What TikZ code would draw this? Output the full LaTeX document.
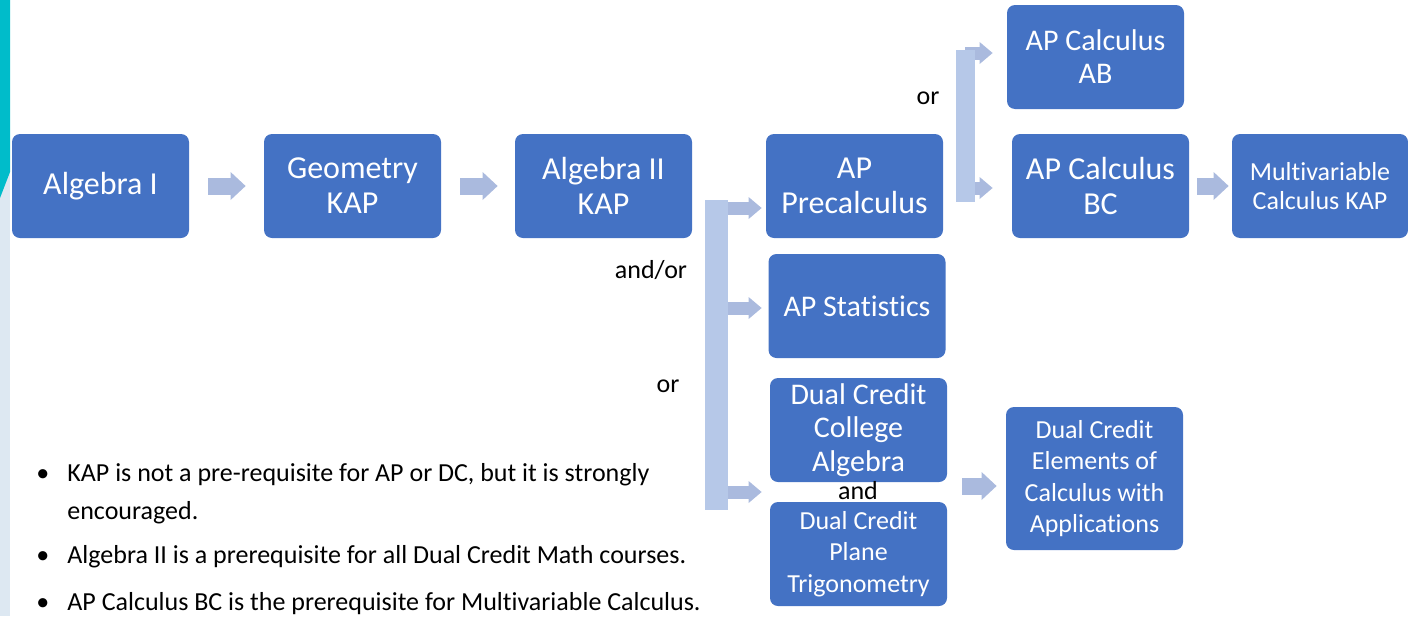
\documentclass[tikz,border=0pt]{standalone}
\usepackage{fontspec}
\setmainfont{Carlito}[Ligatures=NoCommon]
\usetikzlibrary{arrows.meta}
\definecolor{boxblue}{RGB}{68,114,196}
\definecolor{arrowblue}{RGB}{170,186,222}
\definecolor{barblue}{RGB}{182,200,232}
\definecolor{edgeteal}{RGB}{0,188,202}
\definecolor{edgegray}{RGB}{221,232,242}
\tikzset{
  course/.style={fill=boxblue, rounded corners=4pt, text=white, align=center,
    inner sep=0pt, minimum width=88.5pt, minimum height=52pt,
    font=\fontsize{16}{17.5}\selectfont},
  bigarrow/.style={draw=arrowblue, line width=8.5pt,
    -{Triangle[length=7.5pt,width=14pt,line width=0pt]}},
  forkarrow/.style={draw=arrowblue, line width=6.5pt,
    -{Triangle[length=6.5pt,width=11pt,line width=0pt]}},
  forkbar/.style={draw=barblue},
  joiner/.style={font=\fontsize{13}{15}\selectfont},
  note/.style={anchor=base west, align=left, inner sep=0pt,
    font=\fontsize{13}{19}\selectfont},
}
\begin{document}
\begin{tikzpicture}[x=0.5pt,y=-0.5pt]
\useasboundingbox (0,0) rectangle (1408,616);
% slide edge
\fill[edgegray] (0,0) rectangle (10,616);
\fill[edgeteal] (0,0) -- (10,0) -- (10,172) -- (0,198) -- cycle;
% courses
\node[course] (alg1) at (100.5,186) {Algebra I};
\node[course] (geo) at (352.5,186) {Geometry\\KAP};
\node[course] (alg2) at (603.5,186) {Algebra II\\KAP};
\node[course] (precalc) at (854.5,186) {AP\\Precalculus};
\node[course, font=\fontsize{15}{16.5}\selectfont] (calcab) at (1095.5,57) {AP Calculus\\AB};
\node[course] (calcbc) at (1100.5,186) {AP Calculus\\BC};
\node[course, minimum width=88pt, font=\fontsize{13}{14.5}\selectfont] (multi) at (1320,186) {Multivariable\\Calculus KAP};
\node[course, font=\fontsize{15}{16.5}\selectfont] (stats) at (857,306) {AP Statistics};
\node[course, font=\fontsize{15}{16.75}\selectfont] (dcalg) at (858.5,430) {Dual Credit\\College\\Algebra};
\node[course, font=\fontsize{13}{15.75}\selectfont] (dctrig) at (858.5,554) {Dual Credit\\Plane\\Trigonometry};
\node[course, minimum height=71.5pt, font=\fontsize{13}{15.75}\selectfont] (elem) at (1094.5,478.5) {Dual Credit\\Elements of\\Calculus with\\Applications};
% straight steps
\draw[bigarrow, shorten <=9.5pt, shorten >=9pt] (alg1.east) -- (geo.west);
\draw[bigarrow, shorten <=9.5pt, shorten >=8.5pt] (geo.east) -- (alg2.west);
\draw[bigarrow, shorten <=4pt, shorten >=1.5pt] (calcbc.east) -- (multi.west);
\coordinate (dcpair) at (947,486);
\draw[bigarrow, shorten <=7.5pt, shorten >=4.5pt] (dcpair) -- (dcpair -| elem.west);
% fork after Algebra II
\coordinate (lowA) at (716,208);
\coordinate (lowB) at (716,308);
\coordinate (lowC) at (716,492);
\draw[forkarrow, shorten >=2pt] (lowA) -- (lowA -| precalc.west);
\draw[forkarrow, shorten >=3.25pt] (lowB) -- (lowB -| stats.west);
\draw[forkarrow, shorten >=4pt] (lowC) -- (lowC -| dctrig.west);
\draw[forkbar, line width=11.5pt] (716,200) -- (716,510);
% fork after Precalculus
\coordinate (upA) at (965,53);
\coordinate (upB) at (965,188);
\draw[forkarrow, shorten >=7pt] (upA) -- (upA -| calcab.west);
\draw[forkarrow, shorten >=9.5pt] (upB) -- (upB -| calcbc.west);
\draw[forkbar, line width=9.5pt] (965,50) -- (965,202);
% joining words
\node[joiner] (orab) at (928,98) {or};
\node[joiner] (andor) at (651,270) {and/or};
\node[joiner] (orlow) at (668,386) {or};
\node[joiner] (anddc) at (858,491) {and};
% notes
\node[note] (note1) at (36,519) {\makebox[15.5pt][l]{\textbullet}KAP is not a pre-requisite for AP or DC, but it is strongly\\\hspace*{15.5pt}encouraged.};
\node[note] (note2) at (36,563) {\makebox[15.5pt][l]{\textbullet}Algebra II is a prerequisite for all Dual Credit Math courses.};
\node[note] (note3) at (36,610) {\makebox[15.5pt][l]{\textbullet}AP Calculus BC is the prerequisite for Multivariable Calculus.};
\end{tikzpicture}
\end{document}
